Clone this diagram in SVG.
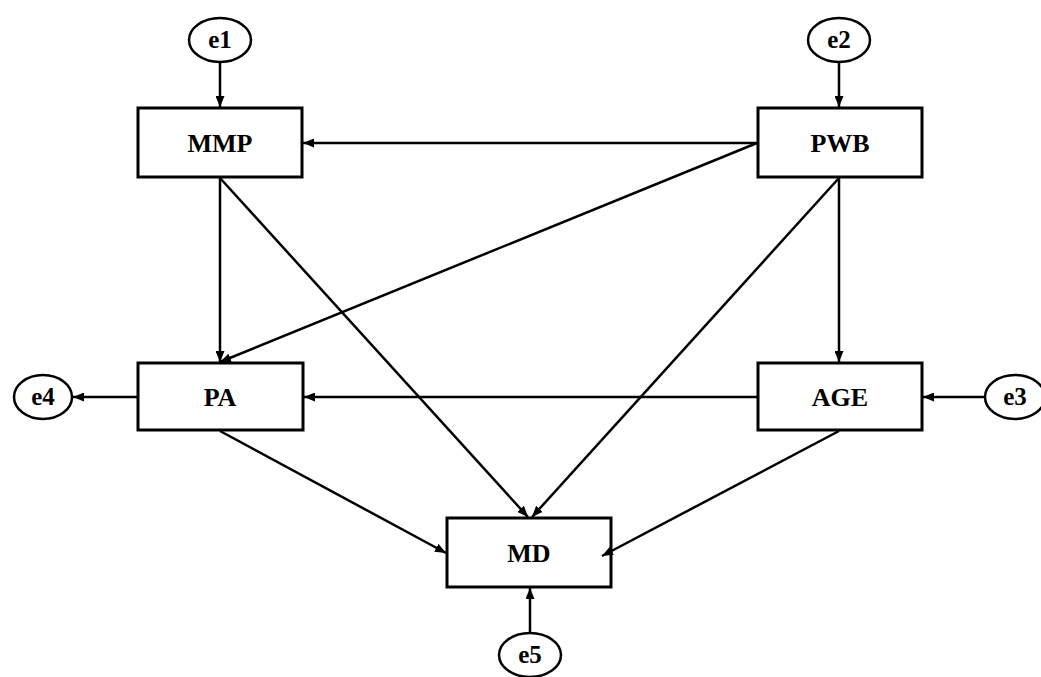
<svg xmlns="http://www.w3.org/2000/svg" width="1041" height="677" viewBox="0 0 1041 677">
  <style>
    .box { fill: #ffffff; stroke: #000000; stroke-width: 3; }
    .err { fill: #ffffff; stroke: #000000; stroke-width: 2.5; }
    .lbl { font-family: "Liberation Serif", "Times New Roman", serif; font-weight: bold; font-size: 26px; fill: #000000; text-anchor: middle; }
    .elbl { font-family: "Liberation Serif", "Times New Roman", serif; font-weight: bold; font-size: 25px; fill: #000000; text-anchor: middle; }
    .edge { fill: none; stroke: #000000; stroke-width: 2.5; marker-end: url(#arrow); }
  </style>
  <defs>
    <marker id="arrow" viewBox="0 0 11 9" refX="11" refY="4.5" markerWidth="11" markerHeight="9" markerUnits="userSpaceOnUse" orient="auto">
      <path d="M0,0 L11,4.5 L0,9 Z" fill="#000000"/>
    </marker>
  </defs>
  <rect width="1041" height="677" fill="#ffffff"/>

  <g id="e1"><ellipse class="err" cx="220" cy="40" rx="31" ry="22"/><text class="elbl" x="220" y="48">e1</text></g>
  <g id="e2"><ellipse class="err" cx="839" cy="40" rx="31" ry="22"/><text class="elbl" x="839" y="48">e2</text></g>
  <g id="e3"><ellipse class="err" cx="1015" cy="397" rx="30" ry="22"/><text class="elbl" x="1015" y="405">e3</text></g>
  <g id="e4"><ellipse class="err" cx="43" cy="397" rx="29" ry="22"/><text class="elbl" x="43" y="405">e4</text></g>
  <g id="e5"><ellipse class="err" cx="530" cy="655" rx="31" ry="22"/><text class="elbl" x="530" y="663">e5</text></g>

  <g id="MMP"><rect class="box" x="138" y="108" width="164" height="69"/><text class="lbl" x="220" y="152">MMP</text></g>
  <g id="PWB"><rect class="box" x="758" y="108" width="164" height="69"/><text class="lbl" x="840" y="152">PWB</text></g>
  <g id="PA"><rect class="box" x="138" y="363" width="165" height="67"/><text class="lbl" x="220" y="406">PA</text></g>
  <g id="AGE"><rect class="box" x="758" y="363" width="164" height="67"/><text class="lbl" x="840" y="406">AGE</text></g>
  <g id="MD"><rect class="box" x="447" y="518" width="164" height="69"/><text class="lbl" x="529" y="562">MD</text></g>

  <!-- connectors drawn last so the AGE → MD head sits inside the MD box -->
  <g id="connectors">
    <line class="edge" x1="220" y1="62" x2="220" y2="107"/>
    <line class="edge" x1="839" y1="62" x2="839" y2="107"/>
    <line class="edge" x1="757" y1="143" x2="303" y2="143"/>
    <line class="edge" x1="757" y1="143" x2="220" y2="362"/>
    <line class="edge" x1="220" y1="178" x2="220" y2="362"/>
    <line class="edge" x1="220" y1="178" x2="528" y2="517"/>
    <line class="edge" x1="839" y1="178" x2="532" y2="517"/>
    <line class="edge" x1="839" y1="178" x2="839" y2="362"/>
    <line class="edge" x1="757" y1="397" x2="304" y2="397"/>
    <line class="edge" x1="985" y1="397" x2="923" y2="397"/>
    <line class="edge" x1="137" y1="397" x2="73" y2="397"/>
    <line class="edge" x1="220" y1="431" x2="446" y2="553"/>
    <line class="edge" x1="839" y1="431" x2="602" y2="556"/>
    <line class="edge" x1="530" y1="633" x2="530" y2="588"/>
  </g>
</svg>
